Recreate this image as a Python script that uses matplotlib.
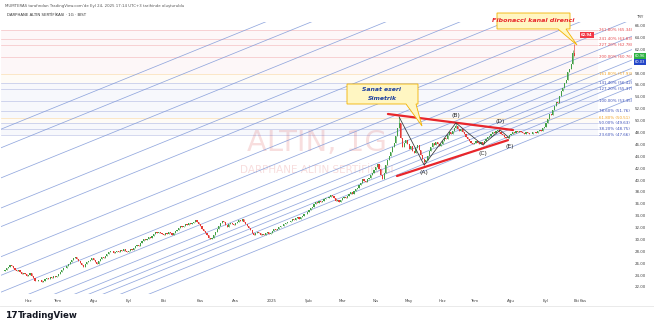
import matplotlib
matplotlib.use("Agg")
import matplotlib.pyplot as plt
import matplotlib.transforms as mtransforms
import numpy as np
from matplotlib.patches import Polygon, Rectangle

W, H = 654, 326

# daily closes (1G bars), grouped by month
may24 = [24.9, 25.2, 25.5, 25.8, 25.6, 25.3, 25.0, 24.8, 24.9, 24.6, 24.3, 24.5, 24.2, 24.0]
jun24 = [24.1, 24.4, 23.9, 23.6, 23.1, 23.0, 23.3, 23.2, 22.9, 23.1, 23.4, 23.6, 23.5, 23.8, 23.6, 23.9, 23.7]
jul24 = [24.0, 24.3, 24.6, 24.9, 25.3, 25.2, 25.6, 25.9, 26.3, 26.6, 26.9, 27.2, 26.8, 26.4, 26.1, 25.8,
         25.5, 25.9, 26.2, 26.5, 26.7, 26.9]
aug24 = [26.6, 26.2, 26.0, 26.4, 26.8, 27.1, 27.0, 27.3, 27.6, 27.9, 28.2, 28.1, 27.8, 27.9, 28.1, 28.0,
         28.3, 28.2, 28.4, 28.2, 28.0]
sep24 = [28.1, 28.4, 28.3, 28.6, 28.9, 29.2, 29.0, 29.4, 29.8, 30.1, 30.0, 30.2, 30.5, 30.4, 30.7, 31.0,
         31.3, 31.1, 31.4, 31.2, 31.0]
oct24 = [30.8, 31.1, 31.0, 31.3, 31.1, 30.9, 31.2, 31.5, 31.7, 32.0, 32.3, 32.1, 32.4, 32.6, 32.5, 32.8,
         32.6, 32.9, 33.1, 33.3, 33.0, 32.6]
nov24 = [32.3, 31.8, 31.5, 31.2, 30.8, 30.4, 30.1, 30.3, 30.8, 31.4, 31.9, 32.4, 32.8, 33.2, 33.0, 32.5,
         32.2, 32.6, 32.9, 32.7, 32.5]
dec24 = [32.8, 33.1, 33.4, 33.2, 33.5, 33.0, 32.6, 32.3, 32.0, 31.7, 31.2, 30.9, 31.1, 31.4, 31.2, 30.9,
         31.0, 30.8, 31.1, 31.3, 31.0, 31.2]
jan25 = [31.5, 31.8, 31.6, 31.9, 32.1, 32.4, 32.3, 32.6, 32.9, 33.1, 33.0, 33.2, 33.5, 33.4, 33.7, 33.9,
         33.6, 33.8, 34.1, 34.4, 34.3, 34.7]
feb25 = [35.0, 35.3, 35.6, 36.0, 36.4, 36.2, 36.5, 36.3, 36.6, 36.9, 37.1, 37.0, 37.3, 37.6, 37.4, 37.0,
         36.6, 36.8, 36.4, 36.7]
mar25 = [37.0, 37.3, 37.1, 37.4, 37.7, 38.0, 37.8, 38.2, 38.5, 38.8, 39.2, 39.6, 40.3, 40.0, 39.8, 40.2,
         40.5, 40.9, 41.3, 41.8]
apr25 = [42.3, 42.8, 42.0, 40.9, 40.3, 41.2, 42.6, 43.5, 44.2, 44.8, 45.6, 46.4, 47.5, 48.8, 49.6, 47.2,
         45.6, 46.3, 46.9, 46.1]
may25 = [45.3, 45.8, 45.0, 44.6, 45.4, 46.0, 45.2, 44.3, 43.6, 43.1, 43.4, 44.2, 44.9, 45.6, 46.3, 46.0,
         46.5, 46.2, 45.8, 46.1]
jun25 = [46.6, 47.2, 47.0, 47.6, 48.1, 47.8, 48.4, 48.9, 49.2, 48.7, 48.3, 48.6, 48.1, 47.8, 47.4, 47.0,
         46.7, 46.4, 46.2]
jul25 = [46.4, 46.6, 46.3, 46.1, 46.5, 46.2, 46.6, 47.0, 47.3, 47.5, 47.8, 48.1, 48.0, 48.3, 48.5, 48.2,
         47.9, 47.6, 47.4, 47.2, 47.3, 47.6]
aug25 = [47.8, 48.1, 48.0, 48.3, 48.2, 48.4, 48.2, 48.0, 47.9, 48.1, 48.0, 47.8, 47.9, 48.2, 48.1, 48.0,
         48.3, 48.5, 48.4, 48.8, 49.0]
sep25 = [49.6, 50.4, 51.2, 51.0, 51.8, 52.6, 53.3, 53.0, 54.2, 55.0, 55.6, 56.4, 57.0, 58.3, 58.8, 59.6,
         61.4, 60.96]
first_open = 24.7

# wick extremes that stand out (bar index -> price)
extra_high = {236: 50.7, 270: 49.7, 296: 48.7, 340: 61.9, 341: 62.94}
extra_low = {251: 42.6, 286: 46.0, 302: 47.16}

month_labels = ["Haz", "Tem", "Ağu", "Eyl", "Eki", "Kas", "Ara", "2025", "Şub", "Mar", "Nis", "May",
                "Haz", "Tem", "Ağu", "Eyl", "Eki", "Kas"]
future_bars = [4, 22]  # rest of Sep 2025, Oct 2025

y_ticks = list(range(22, 68, 2))

fib_pct = [23.6, 38.2, 50.0, 61.8, 78.6, 100.0, 127.2, 141.4, 161.8, 200.0, 227.2, 241.4, 261.8]
fib_price = [47.66, 48.75, 49.63, 50.51, 51.76, 53.35, 55.37, 56.42, 57.93, 60.76, 62.78, 63.83, 65.34]
fib_color = ["#3b4fb8", "#3b4fb8", "#3b4fb8", "#f0a020", "#3b4fb8", "#3b4fb8", "#3b4fb8", "#3b4fb8",
             "#f0a020", "#e5484d", "#e5484d", "#e5484d", "#e5484d"]

# fib channel: base line anchor, slope per bar, width, levels
chan_anchor = (244.3, 38.9)
chan_slope = 0.114
chan_width = 8.2
chan_levels = [0, 0.236, 0.382, 0.5, 0.618, 0.786, 1, 1.272, 1.618, 2, 2.618, 3, 3.618, 4.236, 4.618]

# wave path and triangle lines
wave_bar = [236, 251, 270, 286, 296.5, 302]
wave_price = [50.7, 42.6, 49.7, 46.0, 48.5, 47.16]
wave_names = ["(A)", "(B)", "(C)", "(D)", "(E)"]
wave_label_price = [41.3, 51.0, 44.5, 50.0, 45.8]
top_line = ([229.3, 304.2], [51.2, 48.5])
bottom_line = ([234.7, 301.2], [40.76, 46.8])

last_price, prev_price = 60.96, 60.03

# ---------------------------------------------------------------------
months = [may24, jun24, jul24, aug24, sep24, oct24, nov24, dec24, jan25, feb25, mar25, apr25, may25,
          jun25, jul25, aug25, sep25]
closes = np.array([c for m in months for c in m])
opens = np.concatenate([[first_open], closes[:-1]])
idx = np.arange(len(closes))
highs = np.maximum(opens, closes)
lows = np.minimum(opens, closes)
for k, v in extra_high.items():
    highs[k] = max(highs[k], v)
for k, v in extra_low.items():
    lows[k] = min(lows[k], v)

starts = np.cumsum([len(m) for m in months] + future_bars)[:len(month_labels)]

fig = plt.figure(figsize=(W / 100, H / 100), dpi=100)
fig.patch.set_facecolor("white")
pix = mtransforms.Affine2D().scale(1 / W, -1 / H).translate(0, 1) + fig.transFigure

x0, x1, ytop, ybot = 1, 632, 22, 294
ax = fig.add_axes([x0 / W, 1 - ybot / H, (x1 - x0) / W, (ybot - ytop) / H])
bar_px = 1.67
ax.set_xlim((x0 - 5) / bar_px, (x1 - 5) / bar_px)
ax.set_ylim(65.34 - (ybot - 30) / 5.94, 65.34 - (ytop - 30) / 5.94)
ax.axis("off")

# watermark
ax.text(0.5, 0.555, "ALTIN, 1G", transform=ax.transAxes, ha="center", va="center",
        fontsize=21, color="#f8dede", zorder=0)
ax.text(0.5, 0.455, "DARPHANE ALTIN SERTİFİKASI", transform=ax.transAxes, ha="center",
        va="center", fontsize=7.5, color="#f8dede", zorder=0)

# horizontal fib retracement
fib_end = (598 - 5) / bar_px
xl = ax.get_xlim()
for i, (p, pr, c) in enumerate(zip(fib_pct, fib_price, fib_color)):
    ax.plot([xl[0], fib_end], [pr, pr], color=c, lw=0.5, alpha=0.3, zorder=1)
    if i + 1 < len(fib_price):
        ax.fill_between([xl[0], fib_end], pr, fib_price[i + 1], color=fib_color[i + 1],
                        alpha=0.04, lw=0, zorder=0)
    ax.text(fib_end + 0.5, pr, f"{p:.2f}% ({pr:.2f})", fontsize=2.9, color=c, va="center",
            ha="left", zorder=3)

# fib channel
xs = np.array(xl)
for lv in chan_levels:
    ys = chan_anchor[1] + chan_slope * (xs - chan_anchor[0]) + lv * chan_width
    ax.plot(xs, ys, color="#7f98d8", lw=0.55, alpha=0.85, zorder=1)

# candles
up = closes >= opens
col = np.where(up, "#43a047", "#e53935")
ax.vlines(idx, lows, highs, colors=col, lw=0.45, zorder=2)
ax.bar(idx, np.maximum(np.abs(closes - opens), 0.08), bottom=np.minimum(opens, closes),
       width=0.7, color=col, lw=0, zorder=2)

# triangle + waves
ax.plot(*top_line, color="#e8262b", lw=1.6, zorder=4, solid_capstyle="round")
ax.plot(*bottom_line, color="#e8262b", lw=1.6, zorder=4, solid_capstyle="round")
ax.plot(wave_bar, wave_price, color="#333333", lw=0.55, zorder=4)
for name, b, p in zip(wave_names, wave_bar[1:], wave_label_price):
    ax.text(b, p, name, fontsize=4.3, ha="center", va="center", color="#222", zorder=5)

# price axis
for v in y_ticks:
    ax.text(1.0 + (640 - x1) / (x1 - x0), v, f"{v:.2f}", transform=ax.get_yaxis_transform(),
            fontsize=2.9, ha="center", va="center", color="#444", clip_on=False)
fig.text(640 / W, 1 - 17 / H, "TRY", fontsize=2.9, ha="center", va="center", color="#444")
for val, c, yy in [(last_price, "#2fb344", 56), (prev_price, "#2446c8", 62)]:
    fig.patches.append(Rectangle((634, yy - 3), 12, 6, transform=pix, facecolor=c, edgecolor="none"))
    fig.text(640 / W, 1 - yy / H, f"{val:.2f}", fontsize=2.6, ha="center", va="center", color="white")

# time axis
for s, lab in zip(starts, month_labels):
    ax.text(s, -0.025, lab, transform=ax.get_xaxis_transform(), fontsize=2.9, ha="center",
            va="center", color="#444", clip_on=False)
fig.add_artist(plt.Line2D([0, 654], [306, 306], transform=pix, color="#e6e6e6", lw=0.6))

# red price tag at the last high
fig.patches.append(Rectangle((580, 32), 14, 6, transform=pix, facecolor="#f23645", edgecolor="none"))
fig.text(587 / W, 1 - 35 / H, f"{extra_high[341]:.2f}", fontsize=2.6, ha="center", va="center",
         color="white", fontweight="bold")

# callouts
call1 = [(497, 13), (570, 13), (570, 29), (566, 29), (577, 45), (558, 29), (497, 29)]
fig.patches.append(Polygon(call1, closed=True, transform=pix, facecolor="#fff6c2",
                           edgecolor="#f2b200", lw=0.6))
fig.text(533 / W, 1 - 21 / H, "Fibonacci kanal direnci", fontsize=4.6, ha="center", va="center",
         color="#e8262b", fontweight="bold", style="italic")
call2 = [(347, 84), (418, 84), (418, 104), (416, 104), (422, 126), (406, 104), (347, 104)]
fig.patches.append(Polygon(call2, closed=True, transform=pix, facecolor="#fff6c2",
                           edgecolor="#f2b200", lw=0.6))
fig.text(382 / W, 1 - 89.5 / H, "Sanat eseri", fontsize=4.4, ha="center", va="center",
         color="#1c3fa0", fontweight="bold", style="italic")
fig.text(382 / W, 1 - 98.5 / H, "Simetrik", fontsize=4.4, ha="center", va="center",
         color="#1c3fa0", fontweight="bold", style="italic")

# header / footer
fig.text(5 / W, 1 - 6 / H, "MUMTERAS tarafından TradingView.com'de Eyl 24, 2025 17:14 UTC+3 tarihinde oluşturuldu",
         fontsize=2.8, ha="left", va="center", color="#555")
fig.text(7 / W, 1 - 15 / H, "DARPHANE ALTIN SERTİFİKASI · 1G · BIST", fontsize=2.8, ha="left",
         va="center", color="#333")
fig.text(5 / W, 1 - 316 / H, "17", fontsize=6.5, ha="left", va="center", color="#131722",
         fontweight="heavy")
fig.text(18 / W, 1 - 316 / H, "TradingView", fontsize=6.2, ha="left", va="center", color="#131722",
         fontweight="bold")

fig.savefig("out.png", dpi=100, facecolor="white")
